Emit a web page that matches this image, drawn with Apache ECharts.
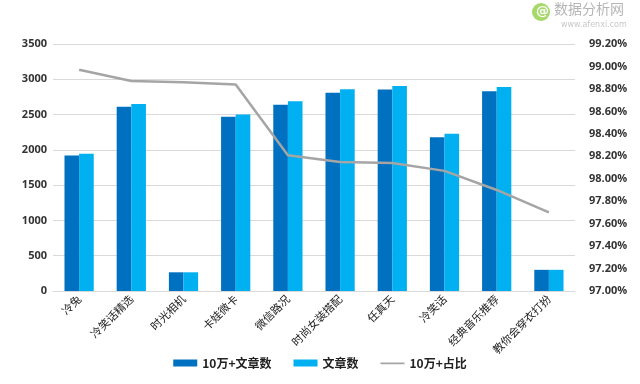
<!DOCTYPE html>
<html><head><meta charset="utf-8">
<script src="https://cdn.jsdelivr.net/npm/echarts@6/dist/echarts.min.js"></script>
<style>html,body{margin:0;padding:0;background:#fff}#c{width:640px;height:384px}</style>
</head><body><div id="c"></div>
<script>
const categories = ['冷兔','冷笑话精选','时光相机','卡娃微卡','微信路况','时尚女装搭配','任真天','冷笑话','经典音乐推荐','教你会穿衣打扮'];
const hotArticles = [1920, 2610, 265, 2470, 2640, 2810, 2855, 2180, 2830, 300];
const allArticles = [1945, 2650, 265, 2500, 2690, 2860, 2905, 2230, 2890, 300];
const hotRatio = [98.97, 98.87, 98.86, 98.84, 98.21, 98.15, 98.14, 98.07, 97.90, 97.70];
const seriesNames = ['10万+文章数', '文章数', '10万+占比'];

const tickFont = {fontFamily: 'Open Sans, Noto Sans CJK SC', fontWeight: 'bold', fontSize: 11, color: '#333'};
const chart = echarts.init(document.getElementById('c'));
chart.setOption({
  animation: false,
  backgroundColor: '#fff',
  grid: {left: 53, right: 65, top: 44, bottom: 93, containLabel: false},
  legend: {
    bottom: 10, left: 'center', itemGap: 22, itemWidth: 24, itemHeight: 7,
    textStyle: {fontFamily: 'Noto Sans CJK SC', fontWeight: 'bold', fontSize: 12, color: '#222'},
    data: [
      {name: seriesNames[0], icon: 'rect'},
      {name: seriesNames[1], icon: 'rect'},
      {name: seriesNames[2], icon: 'path://M0,0L0.01,0M0,3L24,3L24,4.8L0,4.8ZM0,7L0.01,7'}
    ]
  },
  xAxis: {
    type: 'category', data: categories,
    axisLine: {lineStyle: {color: '#d9d9d9'}},
    axisTick: {show: false},
    axisLabel: {rotate: 45, interval: 0, margin: 6, fontFamily: 'Noto Sans CJK SC', fontSize: 11, color: '#222'}
  },
  yAxis: [
    {type: 'value', min: 0, max: 3500, interval: 500,
     axisLine: {show: false}, axisTick: {show: false},
     splitLine: {lineStyle: {color: '#d9d9d9'}},
     axisLabel: Object.assign({margin: 6, formatter: v => String(v)}, tickFont)},
    {type: 'value', min: 97, max: 99.2, interval: 0.2,
     axisLine: {show: false}, axisTick: {show: false}, splitLine: {show: false},
     axisLabel: Object.assign({margin: 14, formatter: v => v.toFixed(2) + '%'}, tickFont)}
  ],
  series: [
    {name: seriesNames[0], type: 'bar', data: hotArticles, itemStyle: {color: '#0070C0'}, barGap: '0%', barCategoryGap: '44%'},
    {name: seriesNames[1], type: 'bar', data: allArticles, itemStyle: {color: '#00B0F0'}, barGap: '0%', barCategoryGap: '44%'},
    {name: seriesNames[2], type: 'line', yAxisIndex: 1, data: hotRatio, symbol: 'none',
     lineStyle: {color: '#A5A5A5', width: 2.5}, itemStyle: {color: '#A5A5A5'}}
  ],
  graphic: [
    {type: 'circle', left: 532, top: 3, shape: {r: 9}, style: {fill: '#a6d86a'}},
    {type: 'text', left: 536, top: 5, style: {text: '@', fill: '#fff', font: 'bold 13px DejaVu Sans'}},
    {type: 'text', left: 554, top: 2, style: {text: '数据分析网', fill: '#b5b5b5', font: '14px Noto Sans CJK SC'}},
    {type: 'text', left: 561, top: 21, style: {text: 'www.afenxi.com', fill: '#c8c8c8', font: '8px DejaVu Sans'}}
  ]
});
</script>
</body></html>
